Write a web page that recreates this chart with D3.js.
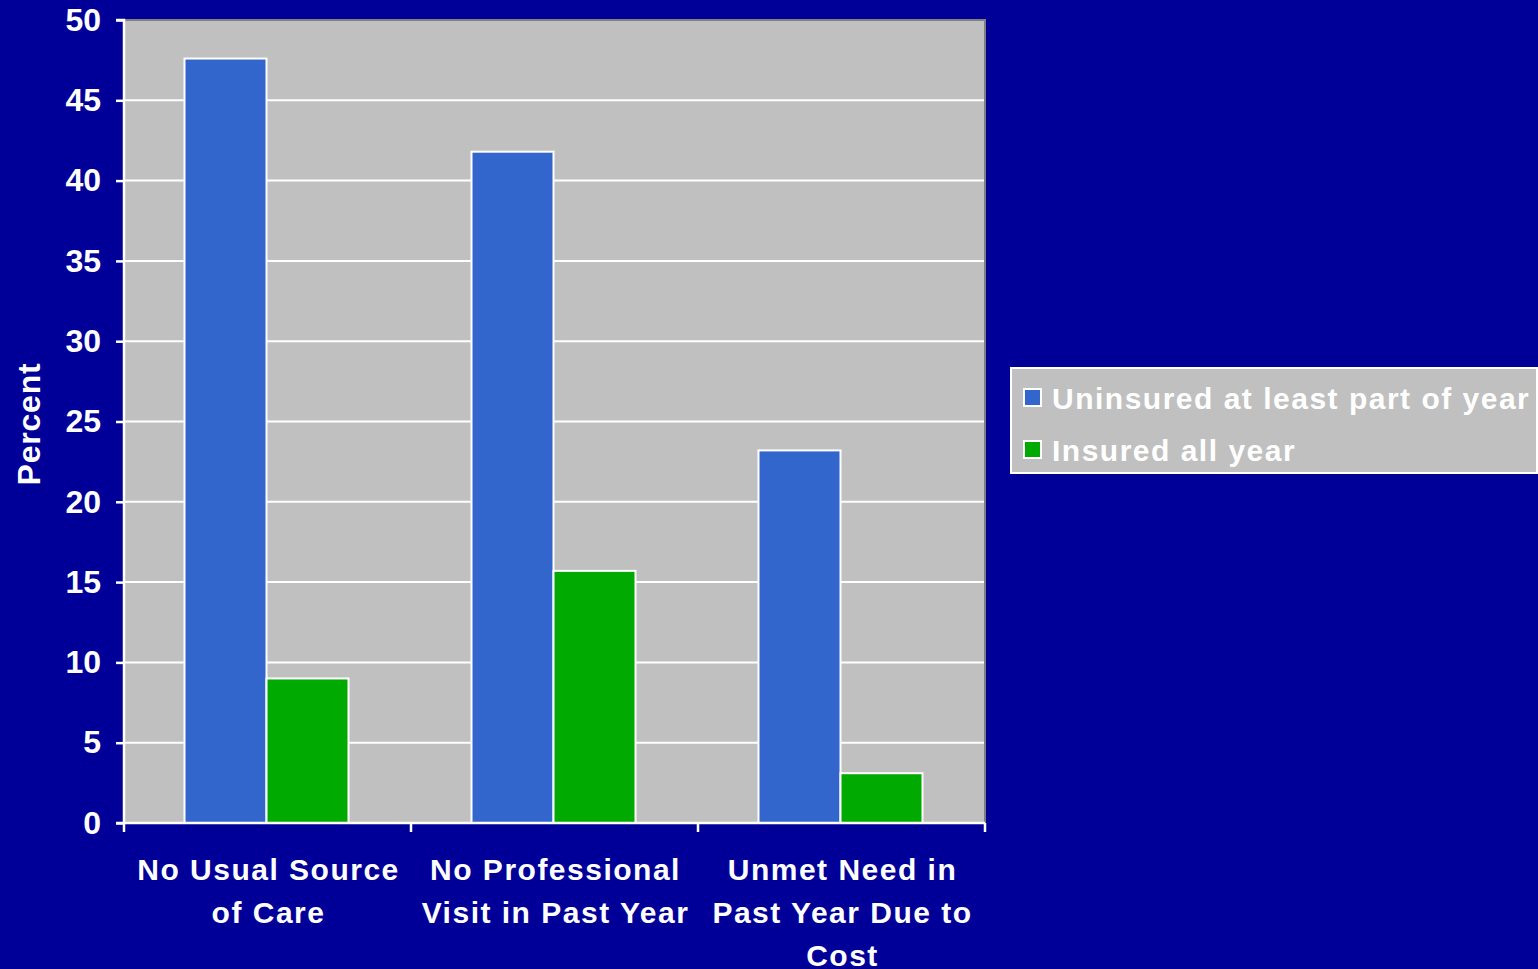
<!DOCTYPE html>
<html>
<head>
<meta charset="utf-8">
<script src="https://cdn.jsdelivr.net/npm/d3@7"></script>
<style>
  html, body { margin: 0; padding: 0; background: #000099; }
  svg { display: block; }
  text { font-family: "Liberation Sans", Arial, sans-serif; font-weight: bold; fill: #fff; }
</style>
</head>
<body>
<svg id="chart" width="1538" height="969"></svg>
<script>
const categories = [
  ['No Usual Source', 'of Care'],
  ['No Professional', 'Visit in Past Year'],
  ['Unmet Need in', 'Past Year Due to', 'Cost']
];
const seriesNames = ['Uninsured at least part of year', 'Insured all year'];
const uninsured = [47.6, 41.8, 23.2];
const insured = [9.0, 15.7, 3.1];
const yTicks = [0, 5, 10, 15, 20, 25, 30, 35, 40, 45, 50];
const colors = ['#3366CC', '#00AA00'];

const svg = d3.select('#chart');
const margin = { top: 20, left: 124, right: 985, bottom: 823 };

const y = d3.scaleLinear().domain([0, 50]).range([margin.bottom, margin.top]);
const x = d3.scaleBand()
  .domain(d3.range(categories.length))
  .range([margin.left, margin.right]);
const barW = x.bandwidth() / 3.5;
const x1 = d3.scaleBand().domain([0, 1])
  .range([x.bandwidth() / 2 - barW - 1, x.bandwidth() / 2 + barW - 1]);

// plot background
svg.append('rect')
  .attr('x', margin.left).attr('y', margin.top)
  .attr('width', margin.right - margin.left)
  .attr('height', margin.bottom - margin.top)
  .attr('fill', '#C0C0C0');

// darker top/right border
svg.append('path')
  .attr('d', `M${margin.left},${margin.top}H${margin.right}V${margin.bottom}`)
  .attr('fill', 'none')
  .attr('stroke', '#808080')
  .attr('stroke-width', 2);

// gridlines
svg.append('g')
  .selectAll('line')
  .data(yTicks.filter(d => d > 0 && d < 50))
  .join('line')
  .attr('x1', margin.left).attr('x2', margin.right - 1)
  .attr('y1', d => y(d)).attr('y2', d => y(d))
  .attr('stroke', '#fff')
  .attr('stroke-width', 2);

// bars
const data = categories.map((c, i) => [uninsured[i], insured[i]]);
svg.append('g')
  .selectAll('g')
  .data(data)
  .join('g')
  .attr('transform', (d, i) => `translate(${x(i)},0)`)
  .selectAll('rect')
  .data(d => d)
  .join('rect')
  .attr('x', (d, j) => x1(j))
  .attr('y', d => y(d))
  .attr('width', x1.bandwidth())
  .attr('height', d => y(0) - y(d))
  .attr('fill', (d, j) => colors[j])
  .attr('stroke', '#fff')
  .attr('stroke-width', 2);

// y axis
const yAxis = svg.append('g')
  .attr('transform', `translate(${margin.left},0)`)
  .call(d3.axisLeft(y).tickValues(yTicks).tickSize(8).tickPadding(15));
yAxis.selectAll('path, line').attr('stroke', '#fff').attr('stroke-width', 2.5);
yAxis.select('.domain').attr('d', `M-8,${margin.top}H0V${margin.bottom}`);
yAxis.selectAll('text')
  .style('font-family', '"Liberation Sans", Arial, sans-serif')
  .style('font-weight', 'bold')
  .style('font-size', '32px')
  .attr('fill', '#fff');

// x axis
const xAxis = svg.append('g')
  .attr('transform', `translate(0,${margin.bottom})`);
xAxis.append('line')
  .attr('x1', margin.left - 8).attr('x2', margin.right)
  .attr('stroke', '#fff').attr('stroke-width', 2.5);
xAxis.selectAll('.tk')
  .data(d3.range(categories.length + 1))
  .join('line')
  .attr('class', 'tk')
  .attr('x1', i => i < categories.length ? x(i) : margin.right)
  .attr('x2', i => i < categories.length ? x(i) : margin.right)
  .attr('y1', 0).attr('y2', 9)
  .attr('stroke', '#fff').attr('stroke-width', 2.5);

xAxis.selectAll('.cat')
  .data(categories)
  .join('text')
  .attr('class', 'cat')
  .attr('text-anchor', 'middle')
  .style('font-size', '30px')
  .style('letter-spacing', '1.5px')
  .each(function (lines, i) {
    d3.select(this).selectAll('tspan')
      .data(lines)
      .join('tspan')
      .attr('x', x(i) + x.bandwidth() / 2 + 1)
      .attr('y', (l, k) => 57 + k * 43)
      .text(l => l);
  });

// y label
svg.append('text')
  .attr('transform', 'translate(40,424) rotate(-90)')
  .attr('text-anchor', 'middle')
  .style('font-size', '32px')
  .style('letter-spacing', '0.8px')
  .text('Percent');

// legend
const legend = svg.append('g').attr('transform', 'translate(1011,368)');
legend.append('rect')
  .attr('width', 526).attr('height', 105)
  .attr('fill', '#C0C0C0')
  .attr('stroke', '#fff').attr('stroke-width', 2);
seriesNames.forEach((name, i) => {
  const row = legend.append('g').attr('transform', `translate(0,${30 + i * 52})`);
  row.append('rect')
    .attr('x', 13).attr('y', -9)
    .attr('width', 17).attr('height', 17)
    .attr('fill', colors[i])
    .attr('stroke', '#fff').attr('stroke-width', 2);
  row.append('text')
    .attr('x', 41).attr('y', 11)
    .style('font-size', '30px')
    .style('letter-spacing', '1.5px')
    .text(name);
});
</script>
</body>
</html>
